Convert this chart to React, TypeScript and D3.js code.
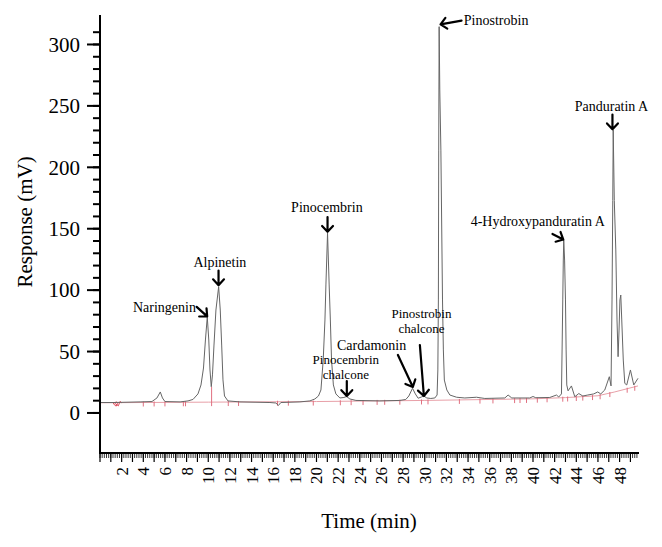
import React from 'react';
import * as d3 from 'd3';

// chromatogram trace: [time (min), response (mV)]
const trace: [number, number][] = [
  [0, 8.5], [1.2, 8.5], [3.7, 9.0], [4.8, 9.3], [5.26, 12.2], [5.57, 17.1], [5.77, 12.2], [6.0, 9.3],
  [7.4, 9.0], [8.13, 9.8], [8.59, 11], [9.05, 15.5], [9.33, 22.8], [9.56, 36.6], [9.74, 59.4], [9.91, 78.1],
  [10.05, 59.4], [10.16, 35], [10.28, 21.4], [10.39, 31], [10.53, 55.3], [10.71, 83.8], [10.96, 102.8],
  [11.11, 83.8], [11.24, 55.3], [11.36, 26.9], [11.5, 13.8], [11.82, 9.8], [12.93, 9.0], [15.7, 8.5],
  [16.25, 8.1], [16.48, 6.1], [16.71, 8.5], [18.47, 9.0], [19.39, 9.8], [19.85, 11.4], [20.18, 13.8],
  [20.41, 18.7], [20.62, 43.1], [20.78, 75.7], [20.87, 104.2], [21.02, 146.5], [21.17, 104.2], [21.28, 75.7],
  [21.39, 43.1], [21.56, 22.8], [21.79, 15.5], [22.16, 12.2], [22.53, 12.6], [22.78, 13.4], [23.08, 11.4],
  [23.64, 10.2], [25.85, 9.8], [27.7, 10.2], [28.25, 11], [28.53, 13.8], [28.87, 20.1], [29.13, 15.5],
  [29.39, 12], [29.69, 13], [29.92, 13.8], [30.19, 12.2], [30.56, 11.8], [30.93, 12.2], [31.14, 14.6],
  [31.21, 35], [31.26, 92], [31.29, 214], [31.33, 314.5], [31.39, 263], [31.49, 214], [31.64, 92],
  [31.72, 51.3], [31.81, 26.8], [32.04, 18.7], [32.32, 14.6], [32.94, 12.8], [33.7, 12.2], [34.78, 12.8],
  [35.55, 11.8], [37.4, 12.2], [37.7, 14.6], [38.04, 12.2], [39.7, 12.2], [40.0, 13.4], [40.26, 12.4],
  [41.55, 12.6], [42.17, 14.6], [42.38, 13], [42.63, 15.5], [42.7, 59.4], [42.75, 92], [42.8, 124.5],
  [42.84, 140.8], [42.92, 124.5], [43.0, 92], [43.06, 51.3], [43.12, 22.8], [43.24, 18], [43.55, 22],
  [43.86, 13.2], [44.23, 15.8], [44.6, 13.8], [45.06, 14.6], [45.61, 15.5], [45.98, 17.1], [46.26, 15.5],
  [46.63, 18.7], [47.05, 29.5], [47.21, 22], [47.3, 92], [47.37, 173], [47.41, 230.4], [47.51, 173],
  [47.65, 132.7], [47.76, 75.7], [47.86, 45.8], [47.95, 67.5], [48.03, 92], [48.11, 96], [48.2, 75.7],
  [48.34, 43.1], [48.48, 24.1], [48.66, 22.8], [49.0, 35], [49.31, 22.8], [49.7, 28.2],
];

// integration baseline (red) and its marks
const baseline: [number, number][] = [
  [0, 8.3], [10, 8.8], [20, 9.3], [30, 10.2], [40, 11.5], [43, 12.5], [46, 14], [47.5, 17], [49.7, 22],
];
const squiggle: [number, number][] = [
  [1.2, 8.4], [1.35, 6.4], [1.5, 5.6], [1.62, 7.6], [1.5, 9.2], [1.38, 7.8], [1.7, 5.8], [1.85, 9.4], [2.0, 8.3],
];
const markTimes = [
  4.0, 5.0, 6.0, 7.7, 7.9, 11.85, 12.8, 16.4, 17.4, 19.7, 22.2, 23.2, 24.3, 25.6, 26.3, 27.7, 29.7, 30.3,
  33.2, 35.1, 36.3, 38.3, 38.8, 39.4, 40.4, 41.3, 42.75, 43.2, 44.0, 44.6, 45.5, 46.2, 47.1, 48.7, 49.4,
];
const valleyMark: [number, number] = [10.31, 21.4];

// peak labels: lines of text, anchor point, text-anchor, arrow from/to
const labels = [
  { lines: ['Naringenin'], at: [8.86, 82.2], anchor: 'end', from: [8.93, 86.4], to: [9.9, 78.6] },
  { lines: ['Alpinetin'], at: [11.08, 118.8], anchor: 'middle', from: [10.95, 116], to: [10.95, 104] },
  { lines: ['Pinocembrin'], at: [20.96, 163.6], anchor: 'middle', from: [21.02, 159.5], to: [21.02, 147.5] },
  { lines: ['Pinocembrin', 'chalcone'], at: [22.71, 39.6], anchor: 'middle', from: [22.8, 26], to: [22.8, 13.8] },
  { lines: ['Cardamonin'], at: [25.09, 51.3], anchor: 'middle', from: [27.52, 47.2], to: [28.9, 21.2] },
  { lines: ['Pinostrobin', 'chalcone'], at: [29.7, 77.2], anchor: 'middle', from: [29.55, 55.3], to: [29.92, 13.8] },
  { lines: ['Pinostrobin'], at: [33.61, 315.8], anchor: 'start', from: [33.4, 319.4], to: [31.46, 316.4] },
  { lines: ['4-Hydroxypanduratin A'], at: [40.44, 152.2], anchor: 'middle', from: [41.8, 145.7], to: [42.8, 141.2] },
  { lines: ['Panduratin A'], at: [47.25, 245.8], anchor: 'middle', from: [47.34, 243], to: [47.34, 231] },
];

const yMajor = [0, 50, 100, 150, 200, 250, 300];
const yMinor = d3.range(0, 311, 10);
const xMinor = d3.range(0, 49.71, 0.2);
const xMajor = d3.range(0, 50, 1);
const xLabels = d3.range(2, 49, 2);

const width = 662;
const height = 547;
const font = '"Liberation Serif", "DejaVu Serif", serif';

const x = d3.scaleLinear().domain([0, 49.7]).range([100, 638]);
const y = d3.scaleLinear().domain([-32.6, 324]).range([453, 15]);

const line = d3.line<[number, number]>().x((d) => x(d[0])).y((d) => y(d[1]));
const baseAt = d3.scaleLinear().domain(baseline.map((d) => d[0])).range(baseline.map((d) => d[1]));

function arrowPath(from: number[], to: number[]) {
  const x1 = x(from[0]), y1 = y(from[1]);
  const x2 = x(to[0]), y2 = y(to[1]);
  const ang = Math.atan2(y2 - y1, x2 - x1);
  const len = 8;
  const spread = 0.75;
  const ax = x2 - len * Math.cos(ang - spread), ay = y2 - len * Math.sin(ang - spread);
  const bx = x2 - len * Math.cos(ang + spread), by = y2 - len * Math.sin(ang + spread);
  return `M${x1},${y1}L${x2},${y2}M${ax},${ay}L${x2},${y2}L${bx},${by}`;
}

export default function App() {
  return (
    <svg width={width} height={height} style={{ position: 'absolute', left: 0, top: 0, background: '#fff' }}>
      {/* red integration baseline */}
      <path d={line(baseline) || ''} fill="none" stroke="#e8a0a8" strokeWidth={1} />
      <path d={line(squiggle) || ''} fill="none" stroke="#e05060" strokeWidth={1} />
      {markTimes.map((t) => (
        <line key={t} x1={x(t)} x2={x(t)} y1={y(baseAt(t)) - 1} y2={y(baseAt(t)) + 4} stroke="#e07080" strokeWidth={1} />
      ))}
      <line x1={x(valleyMark[0])} x2={x(valleyMark[0])} y1={y(valleyMark[1])} y2={y(baseAt(valleyMark[0])) + 4} stroke="#e07080" strokeWidth={1} />

      {/* chromatogram */}
      <path d={line(trace) || ''} fill="none" stroke="#666" strokeWidth={1} />

      {/* y axis */}
      <line x1={100} x2={100} y1={15} y2={454} stroke="#000" strokeWidth={2} />
      {yMinor.map((v) => (
        <line key={'m' + v} x1={93} x2={100} y1={y(v)} y2={y(v)} stroke="#000" strokeWidth={2} />
      ))}
      {yMajor.map((v) => (
        <g key={v}>
          <line x1={87} x2={100} y1={y(v)} y2={y(v)} stroke="#000" strokeWidth={2} />
          <text x={80} y={y(v)} dy="0.35em" textAnchor="end" fontFamily={font} fontSize={21}>{v}</text>
        </g>
      ))}
      <text transform={`translate(25,${(y(-32.6) + y(324)) / 2 - 12}) rotate(-90)`} textAnchor="middle" dy="0.35em" fontFamily={font} fontSize={21}>Response (mV)</text>

      {/* x axis */}
      <line x1={99} x2={639} y1={453} y2={453} stroke="#000" strokeWidth={2} />
      {xMinor.map((t) => (
        <line key={'n' + t} x1={x(t)} x2={x(t)} y1={453} y2={458} stroke="#000" strokeWidth={0.8} />
      ))}
      {xMajor.map((t) => (
        <line key={'j' + t} x1={x(t)} x2={x(t)} y1={453} y2={462} stroke="#000" strokeWidth={1.2} />
      ))}
      {xLabels.map((t) => (
        <text key={'l' + t} transform={`translate(${x(t)},467) rotate(-90)`} textAnchor="end" dy="0.35em" fontFamily={font} fontSize={17}>{t}</text>
      ))}
      <text x={369} y={528} textAnchor="middle" fontFamily={font} fontSize={21}>Time (min)</text>

      {/* peak labels */}
      {labels.map((l) => (
        <g key={l.lines.join(' ') + l.at[0]}>
          {l.lines.map((s, i) => (
            <text key={s} x={x(l.at[0])} y={y(l.at[1]) + i * 14.8} textAnchor={l.anchor} fontFamily={font} fontSize={l.lines.length > 1 ? 13 : 14}>{s}</text>
          ))}
          <path d={arrowPath(l.from, l.to)} fill="none" stroke="#000" strokeWidth={2.2} strokeLinecap="round" strokeLinejoin="round" />
        </g>
      ))}
    </svg>
  );
}
